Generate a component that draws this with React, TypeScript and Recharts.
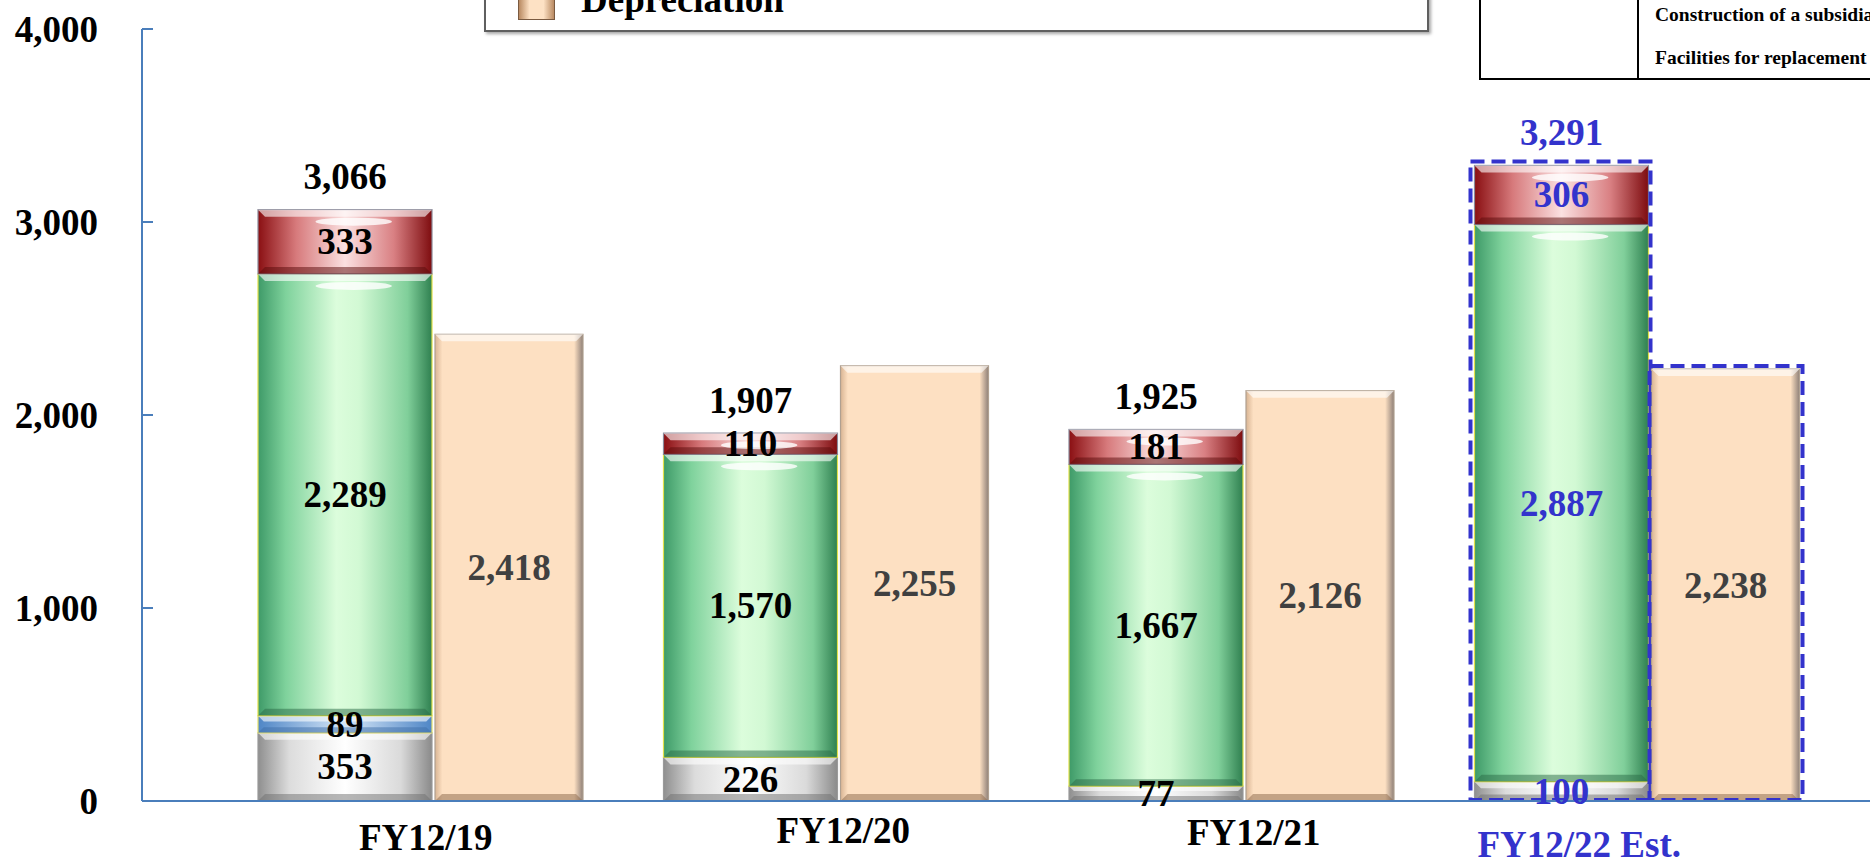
import { BarChart, Bar, XAxis, YAxis, LabelList, Legend } from "recharts";

const CATEGORIES = ["FY12/19", "FY12/20", "FY12/21", "FY12/22 Est."];
const CAPEX_BASE = [353, 226, 77, 100];
const CAPEX_BLUE = [89, 0, 0, 0];
const CAPEX_MAIN = [2289, 1570, 1667, 2887];
const CAPEX_TOP = [333, 110, 181, 306];
const CAPEX_TOTAL = [3066, 1907, 1925, 3291];
const DEPRECIATION = [2418, 2255, 2126, 2238];
const Y_TICKS = [0, 1000, 2000, 3000, 4000];
const TABLE_ROWS = ["Construction of a subsidiary", "Facilities for replacement"];

// label nudges for the category names, [dx, dy] from band centre / axis line
const X_LABEL_SHIFT = [[5, 36], [17, 29], [22, 31], [-58, 43]];

const EST_INDEX = CATEGORIES.length - 1;
const FONT = "'Liberation Serif', 'Times New Roman', serif";
const BLUE = "#3333cc";
const AXIS = "#4a7ebb";

const rows = CATEGORIES.map((name, i) => ({
  name,
  base: CAPEX_BASE[i],
  blue: CAPEX_BLUE[i],
  main: CAPEX_MAIN[i],
  top: CAPEX_TOP[i],
  total: CAPEX_TOTAL[i],
  dep: DEPRECIATION[i],
}));

const fmt = (v: number) => v.toLocaleString("en-US");

function bevel(grad: string, edge: string, outline: string, box?: "stack" | "single", gloss?: boolean) {
  return (p: any) => {
    const { x, y, width: w, height: h, index } = p;
    if (!h || h <= 0.5) return <g />;
    const b = Math.min(7, h / 3);
    const bottom = p.background ? p.background.y + p.background.height : y + h;
    return (
      <g>
        <rect x={x} y={y} width={w} height={h} fill={`url(#${grad})`} stroke={outline} strokeWidth={1.2} />
        <polygon points={`${x},${y} ${x + w},${y} ${x + w - b},${y + b} ${x + b},${y + b}`} fill="#ffffff" fillOpacity={0.6} />
        <polygon
          points={`${x},${y + h} ${x + w},${y + h} ${x + w - b},${y + h - b} ${x + b},${y + h - b}`}
          fill={edge}
          fillOpacity={0.5}
        />
        {gloss && h > 20 && <ellipse cx={x + w * 0.55} cy={y + b + 5} rx={w * 0.22} ry={4} fill="#ffffff" fillOpacity={0.8} />}
        {box === "stack" && index === EST_INDEX && (
          <rect x={x - 4} y={y - 4} width={w + 6} height={bottom - y + 3} fill="none" stroke={BLUE} strokeWidth={4} strokeDasharray="14 7" />
        )}
        {box === "single" && index === EST_INDEX && (
          <rect x={x - 2} y={y - 3} width={w + 5} height={bottom - y + 2} fill="none" stroke={BLUE} strokeWidth={4} strokeDasharray="14 7" />
        )}
      </g>
    );
  };
}

function inner(color: (i: number) => string) {
  return (p: any) => {
    const vb = p.viewBox ?? p;
    const v = Number(p.value);
    if (!v) return null;
    return (
      <text
        x={vb.x + vb.width / 2}
        y={vb.y + vb.height / 2}
        textAnchor="middle"
        dominantBaseline="central"
        fontFamily={FONT}
        fontWeight="bold"
        fontSize={37}
        fill={color(p.index)}
      >
        {fmt(v)}
      </text>
    );
  };
}

const stackColor = (i: number) => (i === EST_INDEX ? BLUE : "#000000");

const totalLabel = (p: any) => {
  const vb = p.viewBox ?? p;
  return (
    <text
      x={vb.x + vb.width / 2}
      y={vb.y - 33}
      textAnchor="middle"
      dominantBaseline="central"
      fontFamily={FONT}
      fontWeight="bold"
      fontSize={37}
      fill={stackColor(p.index)}
    >
      {fmt(Number(p.value))}
    </text>
  );
};

const YTick = (p: any) => (
  <g>
    <line x1={p.x} y1={p.y} x2={p.x + 11} y2={p.y} stroke={AXIS} strokeWidth={2} />
    <text x={p.x - 44} y={p.y} textAnchor="end" dominantBaseline="central" fontFamily={FONT} fontWeight="bold" fontSize={37} fill="#000">
      {fmt(p.payload.value)}
    </text>
  </g>
);

const XTick = (p: any) => {
  const i = p.index ?? p.payload.index;
  const [dx, dy] = X_LABEL_SHIFT[i] ?? [0, 36];
  return (
    <text
      x={p.x + dx}
      y={p.y + dy}
      textAnchor="middle"
      dominantBaseline="central"
      fontFamily={FONT}
      fontWeight="bold"
      fontSize={37}
      fill={i === EST_INDEX ? BLUE : "#000"}
    >
      {p.payload.value}
    </text>
  );
};

const LegendBox = (props: any) => {
  const item = (props.payload ?? []).find((e: any) => e.value === "Depreciation");
  return (
    <div
      style={{
        position: "relative",
        width: 945,
        height: 94,
        boxSizing: "border-box",
        border: "2px solid #5f5f5f",
        boxShadow: "2px 2px 3px rgba(0,0,0,0.35)",
        background: "#fff",
      }}
    >
      <div
        style={{
          position: "absolute",
          left: 32,
          top: 50,
          width: 37,
          height: 30,
          boxSizing: "border-box",
          border: "1px solid #7a5a40",
          background: "linear-gradient(90deg, #b98a62 0%, #fde1c4 30%, #fde1c4 70%, #b98a62 100%)",
        }}
      />
      <span
        style={{
          position: "absolute",
          left: 95,
          top: 41,
          fontFamily: FONT,
          fontWeight: "bold",
          fontSize: 37,
          lineHeight: "37px",
          whiteSpace: "nowrap",
          color: "#000",
        }}
      >
        {item ? item.value : "Depreciation"}
      </span>
    </div>
  );
};

export default function App() {
  return (
    <div style={{ position: "absolute", left: 0, top: 0, width: 1870, height: 858, overflow: "hidden", background: "#fff" }}>
      <BarChart width={1870} height={858} data={rows} margin={{ top: 29, right: 0, bottom: 0, left: 0 }} barGap={3}>
        <defs>
          <linearGradient id="gBase" x1="0" y1="0" x2="1" y2="0">
            <stop offset="0%" stopColor="#8f8f8f" />
            <stop offset="18%" stopColor="#dcdcdc" />
            <stop offset="50%" stopColor="#ffffff" />
            <stop offset="82%" stopColor="#dadada" />
            <stop offset="100%" stopColor="#8a8a8a" />
          </linearGradient>
          <linearGradient id="gBlue" x1="0" y1="0" x2="1" y2="0">
            <stop offset="0%" stopColor="#4f86c6" />
            <stop offset="50%" stopColor="#d7e7f8" />
            <stop offset="100%" stopColor="#4f86c6" />
          </linearGradient>
          <linearGradient id="gGreen" x1="0" y1="0" x2="1" y2="0">
            <stop offset="0%" stopColor="#3e9a68" />
            <stop offset="16%" stopColor="#7fd29c" />
            <stop offset="45%" stopColor="#dcfddc" />
            <stop offset="58%" stopColor="#d2f9d4" />
            <stop offset="86%" stopColor="#80cf9a" />
            <stop offset="100%" stopColor="#2f8050" />
          </linearGradient>
          <linearGradient id="gRed" x1="0" y1="0" x2="1" y2="0">
            <stop offset="0%" stopColor="#8a0f12" />
            <stop offset="22%" stopColor="#d77a7c" />
            <stop offset="50%" stopColor="#fbe1e1" />
            <stop offset="78%" stopColor="#d98083" />
            <stop offset="100%" stopColor="#7e0c0f" />
          </linearGradient>
          <linearGradient id="gDep" x1="0" y1="0" x2="1" y2="0">
            <stop offset="0%" stopColor="#d8b493" />
            <stop offset="5%" stopColor="#fde0c2" />
            <stop offset="94%" stopColor="#fde0c2" />
            <stop offset="100%" stopColor="#8f8078" />
          </linearGradient>
        </defs>
        <XAxis
          dataKey="name"
          height={57}
          padding={{ left: 76, right: 30 }}
          axisLine={{ stroke: AXIS, strokeWidth: 2 }}
          tickLine={false}
          tickSize={0}
          tickMargin={0}
          interval={0}
          tick={<XTick />}
        />
        <YAxis
          width={142}
          domain={[0, 4000]}
          ticks={Y_TICKS}
          interval={0}
          axisLine={{ stroke: AXIS, strokeWidth: 2 }}
          tickLine={false}
          tickSize={0}
          tickMargin={0}
          tick={<YTick />}
        />
        <Legend
          layout="horizontal"
          verticalAlign="middle"
          align="center"
          wrapperStyle={{ position: "absolute", top: -62, left: 484, width: 945, height: 94 }}
          content={<LegendBox />}
        />
        <Bar dataKey="base" name="Other" stackId="capex" barSize={174} isAnimationActive={false} shape={bevel("gBase", "#6f6f6f", "#9a9a9a")}>
          <LabelList dataKey="base" content={inner(stackColor)} />
        </Bar>
        <Bar dataKey="blue" name="Blue" stackId="capex" barSize={174} isAnimationActive={false} shape={bevel("gBlue", "#3d6ea8", "#e4e06a")}>
          <LabelList dataKey="blue" content={inner(stackColor)} />
        </Bar>
        <Bar dataKey="main" name="Main" stackId="capex" barSize={174} isAnimationActive={false} shape={bevel("gGreen", "#2a6a45", "#e2e04a", undefined, true)}>
          <LabelList dataKey="main" content={inner(stackColor)} />
        </Bar>
        <Bar dataKey="top" name="Top" stackId="capex" barSize={174} isAnimationActive={false} shape={bevel("gRed", "#5a0a0a", "#8a8a9a", "stack", true)}>
          <LabelList dataKey="top" content={inner(stackColor)} />
          <LabelList dataKey="total" content={totalLabel} />
        </Bar>
        <Bar dataKey="dep" name="Depreciation" barSize={148} isAnimationActive={false} shape={bevel("gDep", "#8a6548", "#b0a090", "single")}>
          <LabelList dataKey="dep" content={inner(() => "#404040")} />
        </Bar>
      </BarChart>
      <div
        style={{
          position: "absolute",
          left: 1479,
          top: -42,
          width: 520,
          height: 122,
          boxSizing: "border-box",
          border: "2px solid #000",
          background: "#fff",
        }}
      >
        <div style={{ position: "absolute", left: 156, top: 0, bottom: 0, borderLeft: "2px solid #000" }} />
        {TABLE_ROWS.map((t, i) => (
          <div
            key={t}
            style={{
              position: "absolute",
              left: 174,
              top: 55 + i * 43 - 12,
              height: 24,
              lineHeight: "24px",
              fontFamily: FONT,
              fontWeight: "bold",
              fontSize: 19.5,
              whiteSpace: "nowrap",
              color: "#000",
            }}
          >
            {t}
          </div>
        ))}
      </div>
    </div>
  );
}
